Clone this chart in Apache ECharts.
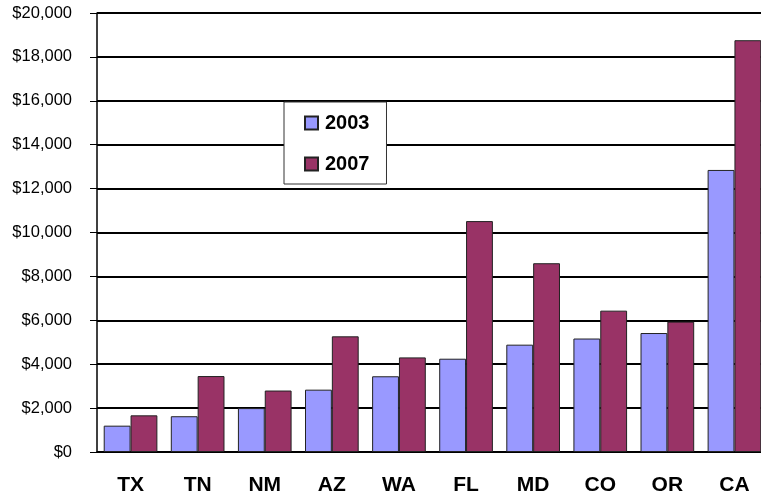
<!DOCTYPE html>
<html>
<head>
<meta charset="utf-8">
<script src="https://cdn.jsdelivr.net/npm/echarts@6/dist/echarts.min.js"></script>
<style>
  html, body { margin: 0; padding: 0; background: #fff; }
  #chart { width: 761px; height: 499px; }
</style>
</head>
<body>
<div id="chart"></div>
<script>
var states = ['TX', 'TN', 'NM', 'AZ', 'WA', 'FL', 'MD', 'CO', 'OR', 'CA'];
var values2003 = [1200, 1630, 2000, 2840, 3450, 4250, 4890, 5170, 5420, 12850];
var values2007 = [1670, 3460, 2800, 5270, 4310, 10520, 8600, 6440, 5940, 18760];
var yTicks = [0, 2000, 4000, 6000, 8000, 10000, 12000, 14000, 16000, 18000, 20000];

var chart = echarts.init(document.getElementById('chart'));

function money(v) {
    return '$' + String(v).replace(/\B(?=(\d{3})+(?!\d))/g, ',');
}

var option = {
    backgroundColor: '#fff',
    animation: false,
    textStyle: { fontFamily: 'Liberation Sans, Arial, sans-serif' },
    // the plot runs past the right edge of the window, as in the original
    grid: { left: 97, top: 13, width: 671, height: 439, outerBoundsMode: 'none', containLabel: false },
    legend: {
        orient: 'vertical',
        left: 284,
        top: 102,
        padding: [11, 17, 10, 20],
        itemGap: 21,
        itemWidth: 13,
        itemHeight: 13,
        backgroundColor: '#fff',
        borderColor: '#333',
        borderWidth: 1,
        icon: 'rect',
        textStyle: { fontSize: 20, fontWeight: 'bold', color: '#000', lineHeight: 20, padding: [0, 0, 0, 2] },
        data: ['2003', '2007']
    },
    xAxis: {
        type: 'category',
        data: states,
        axisLine: { lineStyle: { color: '#000', width: 1.5 } },
        axisTick: { length: 7, lineStyle: { color: '#333' } },
        axisLabel: { fontSize: 21, fontWeight: 'bold', color: '#000', margin: 23 }
    },
    yAxis: {
        type: 'value',
        min: yTicks[0],
        max: yTicks[yTicks.length - 1],
        interval: yTicks[1] - yTicks[0],
        axisLine: { show: true, lineStyle: { color: '#000', width: 1.5 } },
        axisTick: { show: true, length: 7, lineStyle: { color: '#000' } },
        axisLabel: { fontSize: 16.5, color: '#000', margin: 25, formatter: money },
        splitLine: { lineStyle: { color: '#000', width: 2 } }
    },
    series: [
        {
            name: '2003',
            type: 'bar',
            data: values2003,
            barGap: '0%',
            barCategoryGap: '20%',
            itemStyle: { color: '#9999ff', borderColor: '#222', borderWidth: 1 }
        },
        {
            name: '2007',
            type: 'bar',
            data: values2007,
            barGap: '0%',
            barCategoryGap: '20%',
            itemStyle: { color: '#993366', borderColor: '#222', borderWidth: 1 }
        }
    ]
};

chart.setOption(option);
</script>
</body>
</html>
